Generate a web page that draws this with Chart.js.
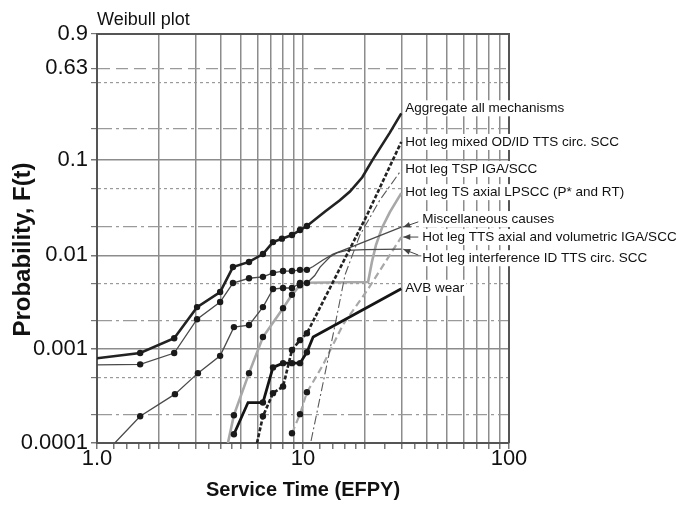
<!DOCTYPE html>
<html>
<head>
<meta charset="utf-8">
<script src="https://cdn.jsdelivr.net/npm/chart.js@4.4.0/dist/chart.umd.min.js"></script>
<style>
  html, body { margin: 0; padding: 0; background: #fff; }
  #wrap { width: 676px; height: 510px; }
</style>
</head>
<body>
<div id="wrap"><canvas id="myChart" width="676" height="510"></canvas></div>
<script>
// assi
const xGridT = [1, 1.2, 1.4, 1.6, 1.8, 2, 2.5, 3, 3.5, 4, 4.5, 5, 6, 7, 8, 9, 10, 12, 14, 16, 18, 20, 25, 30, 35, 40, 45, 50, 60, 70, 80, 90, 100];
const xMajorT = [1, 2, 3, 4, 5, 6, 7, 8, 9, 10, 20, 30, 40, 50, 60, 70, 80, 90, 100];
const xLabelT = [1, 10, 100];
const xLabelText = ['1.0', '10', '100'];
const yGridF = [0.0001, 0.0002, 0.0005, 0.001, 0.002, 0.005, 0.01, 0.02, 0.05, 0.1, 0.2, 0.5, 0.63, 0.9];
const yLabelF = [0.0001, 0.001, 0.01, 0.1, 0.63, 0.9];
const yLabelText = ['0.0001', '0.001', '0.01', '0.1', '0.63', '0.9'];

const seriesNames = [
  'Aggregate all mechanisms',
  'Hot leg mixed OD/ID TTS circ. SCC',
  'Hot leg TSP IGA/SCC',
  'Hot leg TS axial LPSCC (P* and RT)',
  'Miscellaneous causes',
  'Hot leg TTS axial and volumetric IGA/SCC',
  'Hot leg interference ID TTS circ. SCC',
  'AVB wear'
];

// [EFPY, F(t)]  - linee
const aggregateLine = [[1.0, 0.0008], [1.62, 0.00091], [2.37, 0.00131], [3.06, 0.00281], [3.96, 0.00407], [4.57, 0.0075], [5.47, 0.0085], [6.39, 0.0103], [7.15, 0.0138], [7.9, 0.015], [8.84, 0.0164], [9.67, 0.0185], [10.45, 0.0204], [12.8, 0.029], [15.1, 0.038], [16.9, 0.047], [19.4, 0.066], [21.8, 0.10], [26.4, 0.185], [30, 0.28]];
const mixedLine = [[5.98, 0.0001], [6.39, 0.000193], [7.15, 0.00034], [8.0, 0.0004], [8.84, 0.00098], [9.67, 0.00125], [10.45, 0.00148], [20.45, 0.0266], [30, 0.15]];
const tspLine = [[10.94, 0.000105], [14.3, 0.0018], [16.0, 0.0062], [18.9, 0.0164], [23.6, 0.0382], [30, 0.0783]];
const tsAxialLine = [[4.32, 0.0001], [4.62, 0.000198], [5.47, 0.000556], [6.39, 0.00135], [8.0, 0.00274], [8.84, 0.0038], [9.67, 0.0048], [10.45, 0.0051], [20.7, 0.0052], [21.6, 0.0085], [22.6, 0.0128], [24.2, 0.0196], [26.4, 0.0286], [30, 0.0452]];
const miscLine = [[1.0, 0.00068], [1.62, 0.00069], [2.37, 0.00091], [3.06, 0.00209], [3.96, 0.00318], [4.57, 0.00507], [5.47, 0.0057], [6.39, 0.0059], [7.15, 0.0065], [8.0, 0.0068], [8.84, 0.0068], [9.67, 0.0070], [10.45, 0.0070], [11.2, 0.0076], [12.5, 0.0089], [14, 0.0103], [15.6, 0.0113], [30, 0.0199]];
const ttsVolLine = [[8.84, 0.000127], [9.67, 0.000203], [10.45, 0.000348], [11.2, 0.00045], [12.5, 0.00068], [15.6, 0.00181], [20.45, 0.0042], [30, 0.0156]];
const interfLine = [[1.22, 0.0001], [1.62, 0.000193], [2.39, 0.000332], [3.09, 0.000556], [3.96, 0.00085], [4.62, 0.00172], [5.47, 0.00181], [6.39, 0.00281], [7.15, 0.00438], [8.0, 0.00449], [8.84, 0.00449], [9.67, 0.00507], [10.45, 0.00507], [11.4, 0.0061], [12.1, 0.0075], [13.5, 0.0096], [14.6, 0.0106], [16.3, 0.0113], [20, 0.0115], [30, 0.0116]];
const avbLine = [[4.62, 0.000124], [5.41, 0.00027], [6.39, 0.00027], [7.15, 0.00064], [8.0, 0.00071], [8.84, 0.00071], [9.67, 0.00071], [10.45, 0.00093], [11.2, 0.00135], [30, 0.0044]];

// punti osservati
const aggregatePts = [[1.62, 0.00091], [2.37, 0.00131], [3.06, 0.00281], [3.96, 0.00407], [4.57, 0.0075], [5.47, 0.0085], [6.39, 0.0103], [7.15, 0.0138], [7.9, 0.015], [8.84, 0.0164], [9.67, 0.0185], [10.45, 0.0204]];
const mixedPts = [[6.39, 0.000193], [7.15, 0.00034], [8.0, 0.0004], [8.84, 0.00098], [9.67, 0.00125], [10.45, 0.00148]];
const tsAxialPts = [[4.62, 0.000198], [5.47, 0.000556], [6.39, 0.00135], [8.0, 0.00274], [8.84, 0.0038], [9.67, 0.0048]];
const miscPts = [[1.62, 0.00069], [2.37, 0.00091], [3.06, 0.00209], [3.96, 0.00318], [4.57, 0.00507], [5.47, 0.0057], [6.39, 0.0059], [7.15, 0.0065], [8.0, 0.0068], [8.84, 0.0068], [9.67, 0.0070], [10.45, 0.0070]];
const ttsVolPts = [[8.84, 0.000127], [9.67, 0.000203], [10.45, 0.000348]];
const interfPts = [[1.62, 0.000193], [2.39, 0.000332], [3.09, 0.000556], [3.96, 0.00085], [4.62, 0.00172], [5.47, 0.00181], [6.39, 0.00281], [7.15, 0.00438], [8.0, 0.00449], [8.84, 0.00449], [9.67, 0.00507], [10.45, 0.00507]];
const avbPts = [[4.62, 0.000124], [6.39, 0.00027], [7.15, 0.00064], [8.0, 0.00071], [8.84, 0.00071], [9.67, 0.00071], [10.45, 0.00093]];

const seriesLines = [aggregateLine, mixedLine, tspLine, tsAxialLine, miscLine, ttsVolLine, interfLine, avbLine];

// scala Weibull
function weib(f) { return Math.log(-Math.log(1 - f)); }
function toXY(pts) { return pts.map(p => ({ x: p[0], y: weib(p[1]) })); }

function yKind(f) {
  if (f === 0.63) return 'dash';
  if (f === 0.9) return 'top';
  const m = Math.round(f / Math.pow(10, Math.floor(Math.log10(f) + 1e-9)));
  return m === 1 ? 'solid' : (m === 2 ? 'dashdot' : 'dot');
}
const dashFor = { solid: [], dashdot: [14, 4, 3, 4], dot: [3, 3], dash: [12, 6], top: [] };

function lineSet(pts, color, width, dash) {
  return { type: 'scatter', data: toXY(pts), showLine: true, borderColor: color, borderWidth: width,
           borderDash: dash || [], pointRadius: 0, pointHoverRadius: 0, fill: false, tension: 0 };
}
function dotSet(pts) {
  return { type: 'scatter', data: toXY(pts), showLine: false, pointRadius: 3.2, pointHoverRadius: 3.2,
           pointBackgroundColor: '#1a1a1a', pointBorderColor: '#1a1a1a', pointBorderWidth: 0 };
}

// dataset: i primi sono disegnati sopra
const datasets = [
  dotSet(aggregatePts), dotSet(mixedPts), dotSet(tsAxialPts), dotSet(miscPts),
  dotSet(ttsVolPts), dotSet(interfPts), dotSet(avbPts),
  lineSet(aggregateLine, '#222', 2.6),
  lineSet(avbLine, '#151515', 2.8),
  lineSet(mixedLine, '#222', 2.6, [4, 2]),
  lineSet(miscLine, '#4a4a4a', 1.3),
  lineSet(interfLine, '#4a4a4a', 1.3),
  lineSet(tspLine, '#5a5a5a', 1.1, [9, 3, 2, 3]),
  lineSet(ttsVolLine, '#a8a8a8', 2.2, [7, 4]),
  lineSet(tsAxialLine, '#a8a8a8', 2.6)
];

const labelLayout = [
  { dy: -5 }, { dy: 0 }, { dy: -1 }, { dy: -1 },
  { dy: -8, arrow: true }, { dy: 0, arrow: true }, { dy: 9, arrow: true }, { dy: -1 }
];

const fontFam = '"Liberation Sans", Arial, Helvetica, sans-serif';

const framePlugin = {
  id: 'frame',
  beforeDatasetsDraw(chart) {
    const { ctx, chartArea: a } = chart;
    ctx.save();
    ctx.strokeStyle = '#555';
    ctx.lineWidth = 2;
    ctx.beginPath();
    ctx.moveTo(a.left, a.top);
    ctx.lineTo(a.right, a.top);
    ctx.lineTo(a.right, a.bottom);
    ctx.stroke();
    ctx.restore();
  },
  afterDatasetsDraw(chart) {
    const { ctx, chartArea: a, scales } = chart;
    ctx.save();
    ctx.font = '18px ' + fontFam;
    ctx.fillStyle = '#111';
    ctx.textBaseline = 'alphabetic';
    ctx.textAlign = 'left';
    ctx.fillText('Weibull plot', a.left, a.top - 9);

    // titolo asse y
    ctx.save();
    ctx.translate(23, (a.top + a.bottom) / 2 + 11);
    ctx.rotate(-Math.PI / 2);
    ctx.font = 'bold 24px ' + fontFam;
    ctx.textAlign = 'center';
    ctx.textBaseline = 'middle';
    ctx.fillText('Probability, F(t)', 0, 0);
    ctx.restore();

    ctx.font = '13.5px ' + fontFam;
    ctx.textBaseline = 'middle';
    seriesNames.forEach((name, i) => {
      const line = seriesLines[i];
      const last = line[line.length - 1];
      const px = scales.x.getPixelForValue(last[0]);
      const py = scales.y.getPixelForValue(weib(last[1]));
      const lay = labelLayout[i];
      const tx = px + (lay.arrow ? 21 : 4);
      const ty = py + lay.dy;
      const w = ctx.measureText(name).width;
      ctx.fillStyle = '#fff';
      ctx.fillRect(tx - 1, ty - 8, w + 3, 16);
      ctx.fillStyle = '#111';
      ctx.fillText(name, tx, ty);
      if (lay.arrow) {
        const sx = tx - 4, sy = ty + (py - ty) * 0.35;
        const ex = px + 2, ey = py;
        ctx.strokeStyle = '#444';
        ctx.lineWidth = 1;
        ctx.beginPath();
        ctx.moveTo(sx, sy);
        ctx.lineTo(ex, ey);
        ctx.stroke();
        const ang = Math.atan2(ey - sy, ex - sx);
        ctx.fillStyle = '#444';
        ctx.beginPath();
        ctx.moveTo(ex, ey);
        ctx.lineTo(ex - 7 * Math.cos(ang) + 3 * Math.sin(ang), ey - 7 * Math.sin(ang) - 3 * Math.cos(ang));
        ctx.lineTo(ex - 7 * Math.cos(ang) - 3 * Math.sin(ang), ey - 7 * Math.sin(ang) + 3 * Math.cos(ang));
        ctx.closePath();
        ctx.fill();
      }
    });
    ctx.restore();
  }
};

Chart.defaults.font.family = fontFam;
Chart.defaults.color = '#111';

const myChart = new Chart(document.getElementById('myChart'), {
  type: 'scatter',
  data: { datasets: datasets },
  options: {
    responsive: false,
    animation: false,
    layout: { padding: { top: 34, right: 167, left: 0, bottom: 0 } },
    plugins: { legend: { display: false }, tooltip: { enabled: false } },
    scales: {
      x: {
        type: 'logarithmic',
        min: 1, max: 100,
        afterFit(scale) { scale.height = 67; },
        afterBuildTicks(scale) { scale.ticks = xGridT.map(v => ({ value: v })); },
        ticks: {
          autoSkip: false, maxRotation: 0, padding: -3,
          font: { size: 22 }, color: '#111',
          callback(value) { const k = xLabelT.indexOf(value); return k >= 0 ? xLabelText[k] : ''; }
        },
        grid: {
          color: c => (c.tick && xMajorT.includes(c.tick.value)) ? '#8c8c8c' : 'rgba(0,0,0,0)',
          lineWidth: 1.5,
          tickColor: '#777',
          tickLength: 6
        },
        border: { color: '#555', width: 2 },
        title: { display: true, text: 'Service Time (EFPY)', font: { size: 20, weight: 'bold' }, color: '#111', padding: { top: 0, bottom: 8 } }
      },
      y: {
        type: 'linear',
        min: weib(0.0001), max: weib(0.9),
        afterFit(scale) { scale.width = 97; },
        afterBuildTicks(scale) { scale.ticks = yGridF.map(f => ({ value: weib(f) })); },
        ticks: {
          autoSkip: false, padding: 3,
          font: { size: 22 }, color: '#111',
          callback(value, index) { const k = yLabelF.indexOf(yGridF[index]); return k >= 0 ? yLabelText[k] : ''; }
        },
        grid: {
          color: c => {
            if (!c.tick) return '#8c8c8c';
            const k = yKind(yGridF[c.index]);
            return k === 'top' ? 'rgba(0,0,0,0)' : (k === 'solid' ? '#8c8c8c' : '#9a9a9a');
          },
          lineWidth: c => (c.tick && yKind(yGridF[c.index]) === 'solid') ? 1.5 : 1.2,
          tickColor: '#777',
          tickLength: 6
        },
        border: {
          color: '#555', width: 2,
          dash: c => (c && c.tick) ? dashFor[yKind(yGridF[c.index])] : []
        },
        title: { display: false }
      }
    }
  },
  plugins: [framePlugin]
});
</script>
</body>
</html>
